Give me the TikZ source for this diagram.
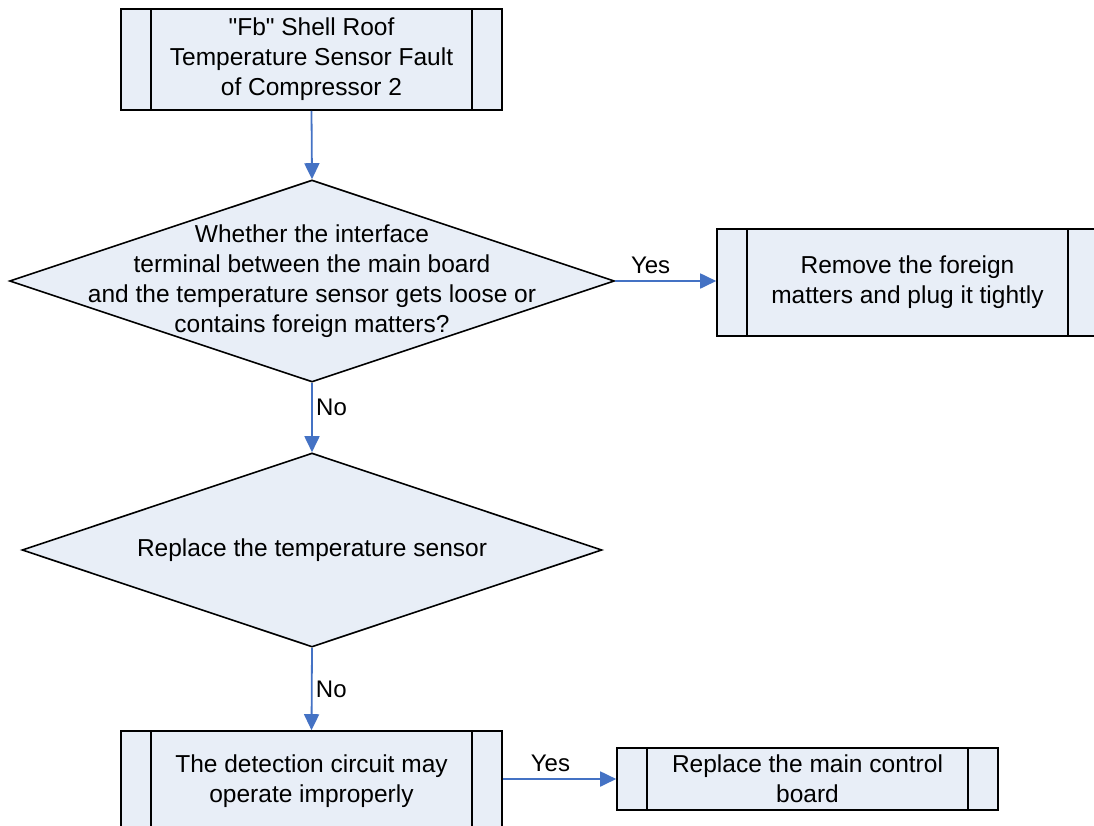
\documentclass[tikz,border=0pt]{standalone}
\usepackage{fontspec}
\setmainfont{Liberation Sans}
\usetikzlibrary{shapes.geometric,arrows.meta,positioning}
\definecolor{boxfill}{RGB}{232,238,247}
\definecolor{flowblue}{RGB}{68,114,196}
\begin{document}
\begin{tikzpicture}[x=1pt, y=1pt,
    txt/.style={font=\fontsize{24.5}{30}\selectfont, align=center},
    procbox/.style={draw, line width=1.6pt, fill=boxfill, minimum width=381pt, inner sep=0pt, txt,
        path picture={
            \draw[line width=1.6pt] ([xshift=30pt]path picture bounding box.north west) -- ([xshift=30pt]path picture bounding box.south west);
            \draw[line width=1.6pt] ([xshift=-30pt]path picture bounding box.north east) -- ([xshift=-30pt]path picture bounding box.south east);
        }},
    decision/.style={diamond, draw, line width=1.6pt, fill=boxfill, inner sep=0pt},
    flow/.style={draw=flowblue, line width=1.8pt, -{Triangle[length=16pt, width=15pt]}},
    lab/.style={font=\fontsize{24}{30}\selectfont}
]
\clip (0,0) rectangle (1094,-825);

% Start box
\node[procbox, minimum height=101pt] (start) at (311.5,-59.5)
    {\textquotedbl Fb\textquotedbl{} Shell Roof\\Temperature Sensor Fault\\of Compressor 2};

% First check
\node[decision, minimum width=605pt, minimum height=202pt] (d1) at (312,-281) {};
\node[txt] (q1) at (d1.center)
    {Whether the interface\\terminal between the main board\\and the temperature sensor gets loose or\\contains foreign matters?};
\node[procbox, minimum height=107pt] (fix1) at (907.5,-282.5)
    {Remove the foreign\\matters and plug it tightly};

% Second check
\node[decision, minimum width=580pt, minimum height=194pt] (d2) at (312,-550) {};
\node[txt] (q2) at (d2.center) {Replace the temperature sensor};

% Bottom row
\node[procbox, minimum height=101pt] (detect) at (311.5,-781.5)
    {The detection circuit may\\operate improperly};
\node[procbox, minimum height=62pt] (board) at (807.5,-779)
    {Replace the main control\\board};

% Connectors
\draw[flow] (start.south) -- (d1.north);
\draw[flow] (d1.east) -- (d1.east -| fix1.west)
    node[lab, pos=0.35, above=3pt] (yes1) {Yes};
\draw[flow] (d1.south) -- (d2.north)
    node[lab, pos=0.35, right] (no1) {No};
\draw[flow] (d2.south) -- (detect.north)
    node[lab, pos=0.5, right] (no2) {No};
\draw[flow] (board.west -| detect.east) -- (board.west)
    node[lab, pos=0.42, above=3pt] (yes2) {Yes};
\end{tikzpicture}
\end{document}
